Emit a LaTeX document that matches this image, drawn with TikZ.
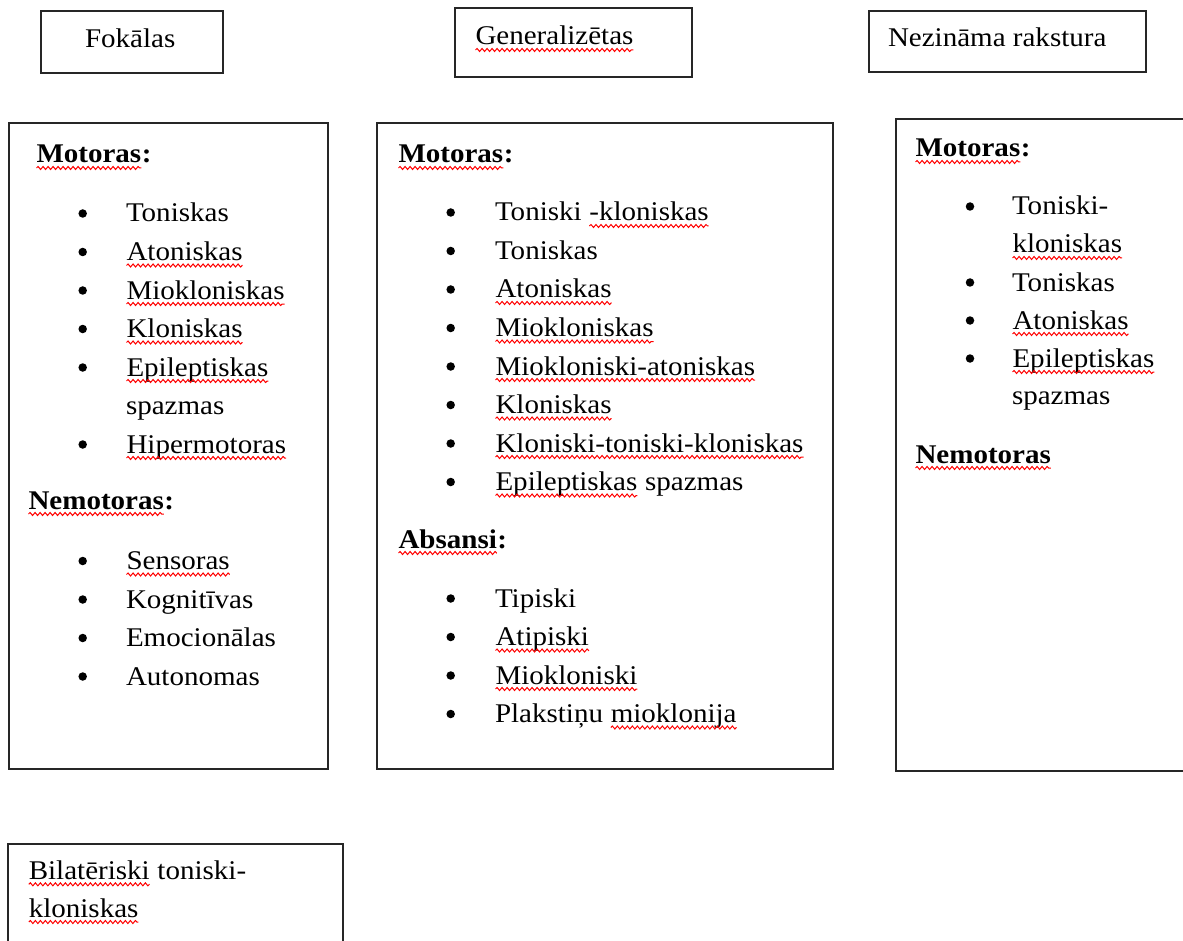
\documentclass[tikz,border=0pt]{standalone}
\usepackage{fontspec}
\setmainfont{Liberation Serif}[FakeStretch=1.075]
\usetikzlibrary{decorations.pathmorphing}
\tikzset{
  box/.style={draw=black!85, line width=2pt, inner sep=0pt, outer sep=0pt, anchor=north west},
  txt/.style={anchor=base west, inner sep=0pt, outer sep=0pt, font=\fontsize{27}{32}\selectfont},
  dot/.style={circle, fill=black, draw=none, inner sep=0pt, minimum size=8.5pt},
  squig/.style={draw=red, line width=1pt, decorate, decoration={snake, amplitude=1.5pt, segment length=5pt}},
}
\newcommand\sq[1]{\tikz[baseline=0pt,x=1pt,y=1pt]{\node[anchor=base west,inner sep=0pt,outer sep=0pt] (w) at (0,0) {#1};
  \draw[squig] ([yshift=-5pt]w.base west) -- ([yshift=-5pt]w.base east);}}
\begin{document}
\begin{tikzpicture}[x=1pt,y=-1pt]
\useasboundingbox (0,0) rectangle (1183,941);
\clip (0,0) rectangle (1183,941);
\fill[white] (0,0) rectangle (1183,941);
% top boxes
\node[box, minimum width=182.3pt, minimum height=62pt] (fok) at (40.7,10.7) {};
\node[box, minimum width=236.7pt, minimum height=68.7pt] (gen) at (455,8.3) {};
\node[box, minimum width=277pt, minimum height=61.6pt] (nez) at (869,10.7) {};
\node[txt] (fokt) at (85,48) {Fokālas};
\node[txt] (gent) at (475,45) {\sq{Generalizētas}};
\node[txt] (nezt) at (888,46.7) {Nezināma rakstura};
% big boxes
\node[box, minimum width=318.8pt, minimum height=646.6pt] (left) at (8.7,122.7) {};
\node[box, minimum width=456.3pt, minimum height=646.6pt] (mid) at (377,122.7) {};
\node[box, minimum width=300pt, minimum height=652.3pt] (right) at (895.7,118.7) {};
\node[box, minimum width=335pt, minimum height=120pt] (bot) at (8.3,844) {};
% left box
\node[txt] (lh1) at (36,163) {\textbf{\sq{Motoras}:}};
\foreach \yy [count=\i] in {222,260.5,299,337.5,376,453,569.5,608,646.5,685}
  \node[dot] (lb\i) at (82.7,\yy-8.5) {};
\node[txt] (l1) at (126,222) {Toniskas};
\node[txt] (l2) at (126,260.5) {\sq{Atoniskas}};
\node[txt] (l3) at (126,299) {\sq{Miokloniskas}};
\node[txt] (l4) at (126,337.5) {\sq{Kloniskas}};
\node[txt] (l5) at (126,376) {\sq{Epileptiskas}};
\node[txt] (l5b) at (126,414.5) {spazmas};
\node[txt] (l6) at (126,453) {\sq{Hipermotoras}};
\node[txt] (lh2) at (28,509) {\textbf{\sq{Nemotoras}:}};
\node[txt] (l7) at (126,569.5) {\sq{Sensoras}};
\node[txt] (l8) at (126,608) {Kognitīvas};
\node[txt] (l9) at (126,646.5) {Emocionālas};
\node[txt] (l10) at (126,685) {Autonomas};
% middle box
\node[txt] (mh1) at (398,163) {\textbf{\sq{Motoras}:}};
\foreach \yy [count=\i] in {221,259.5,298,336.5,375,413.5,452,490.5,607,645.5,684,722.5}
  \node[dot] (mb\i) at (450.7,\yy-8.5) {};
\node[txt] (m1) at (495,221) {Toniski \sq{-kloniskas}};
\node[txt] (m2) at (495,259.5) {Toniskas};
\node[txt] (m3) at (495,298) {\sq{Atoniskas}};
\node[txt] (m4) at (495,336.5) {\sq{Miokloniskas}};
\node[txt] (m5) at (495,375) {\sq{Miokloniski-atoniskas}};
\node[txt] (m6) at (495,413.5) {\sq{Kloniskas}};
\node[txt] (m7) at (495,452) {\sq{Kloniski-toniski-kloniskas}};
\node[txt] (m8) at (495,490.5) {\sq{Epileptiskas} spazmas};
\node[txt] (mh2) at (398,548) {\textbf{\sq{Absansi}:}};
\node[txt] (m9) at (495,607) {Tipiski};
\node[txt] (m10) at (495,645.5) {\sq{Atipiski}};
\node[txt] (m11) at (495,684) {\sq{Miokloniski}};
\node[txt] (m12) at (495,722.5) {Plakstiņu \sq{mioklonija}};
% right box
\node[txt] (rh1) at (915,157) {\textbf{\sq{Motoras}:}};
\foreach \yy [count=\i] in {215,291,329,367}
  \node[dot] (rb\i) at (970,\yy-8.5) {};
\node[txt] (r1) at (1012,215) {Toniski-};
\node[txt] (r1b) at (1012,253) {\sq{kloniskas}};
\node[txt] (r2) at (1012,291) {Toniskas};
\node[txt] (r3) at (1012,329) {\sq{Atoniskas}};
\node[txt] (r4) at (1012,367) {\sq{Epileptiskas}};
\node[txt] (r4b) at (1012,404) {spazmas};
\node[txt] (rh2) at (915,463) {\textbf{\sq{Nemotoras}}};
% bottom box
\node[txt] (b1) at (28.3,879.3) {\sq{Bilatēriski} toniski-};
\node[txt] (b2) at (28.3,917) {\sq{kloniskas}};
\end{tikzpicture}
\end{document}
